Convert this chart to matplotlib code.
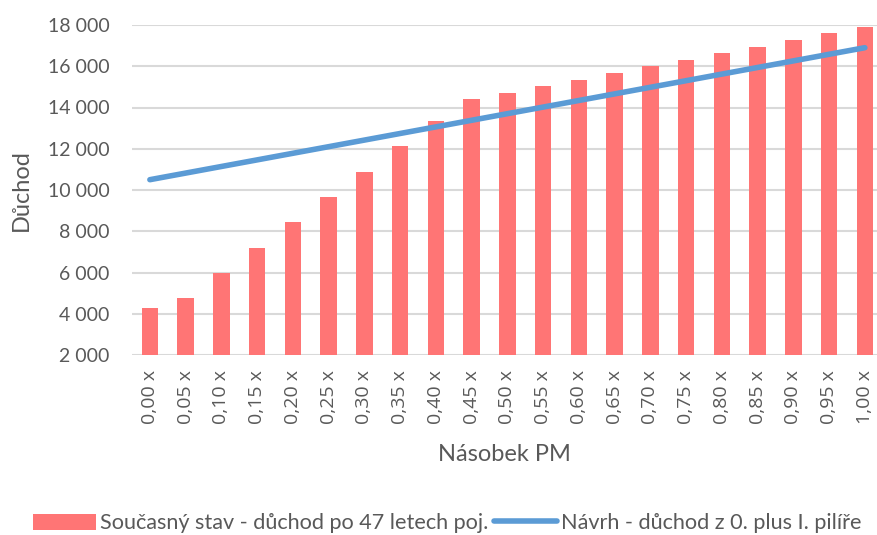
import matplotlib.pyplot as plt
from matplotlib.ticker import FuncFormatter

plt.rcParams['font.family'] = ['Lato', 'DejaVu Sans']

# data
labels = ["0,00 x", "0,05 x", "0,10 x", "0,15 x", "0,20 x", "0,25 x", "0,30 x",
          "0,35 x", "0,40 x", "0,45 x", "0,50 x", "0,55 x", "0,60 x", "0,65 x",
          "0,70 x", "0,75 x", "0,80 x", "0,85 x", "0,90 x", "0,95 x", "1,00 x"]
soucasny = [4280, 4760, 5980, 7200, 8450, 9660, 10880, 12130, 13340, 14410,
            14700, 15040, 15340, 15670, 16000, 16300, 16640, 16930, 17270,
            17600, 17900]
navrh = [10500, 10820, 11140, 11460, 11780, 12100, 12420, 12740, 13060, 13380,
         13700, 14020, 14340, 14660, 14980, 15300, 15620, 15940, 16260, 16580,
         16900]

text_col = "#595959"
bar_col = "#FF7575"
line_col = "#5B9BD5"
grid_col = "#D9D9D9"

fig = plt.figure(figsize=(8.77, 5.35), dpi=100)
ax = fig.add_axes([132 / 877, 1 - 355 / 535, 745 / 877, 330 / 535])

x = range(len(labels))
bars = ax.bar(x, soucasny, width=0.46, color=bar_col, zorder=2,
              label="Současný stav - důchod po 47 letech poj.")
line, = ax.plot(x, navrh, color=line_col, linewidth=4, solid_capstyle="round", zorder=3,
                label="Návrh - důchod z 0. plus I. pilíře")

ax.set_ylim(2000, 18000)
ax.set_xlim(-0.5, 20.34)
ax.set_yticks(range(2000, 18001, 2000))
ax.yaxis.set_major_formatter(FuncFormatter(lambda v, p: f"{int(v):,}".replace(",", " ")))
ax.set_xticks(list(x))
ax.set_xticklabels(labels, rotation=90, fontsize=14, color=text_col,
                   family=['Open Sans', 'DejaVu Sans'])

ax.grid(axis="y", color=grid_col, linewidth=1.5, zorder=0)
ax.set_axisbelow(True)
for s in ax.spines.values():
    s.set_visible(False)
ax.tick_params(axis="y", length=0, pad=16, labelsize=14, labelcolor=text_col)
ax.tick_params(axis="x", length=0, pad=11)

ax.set_xlabel("Násobek PM", fontsize=17, color=text_col, labelpad=14)
ax.set_ylabel("Důchod", fontsize=17, color=text_col)
ax.yaxis.set_label_coords(-100 / 745, 0.5)

leg = fig.legend(handles=[bars, line], loc="lower center",
                 bbox_to_anchor=(0.51, -0.033), ncol=2,
                 frameon=False, fontsize=15.6, handlelength=2.9, handleheight=0.75,
                 handletextpad=0.15, columnspacing=0.3)
for t in leg.get_texts():
    t.set_color(text_col)

fig.savefig("out.png", dpi=100)
